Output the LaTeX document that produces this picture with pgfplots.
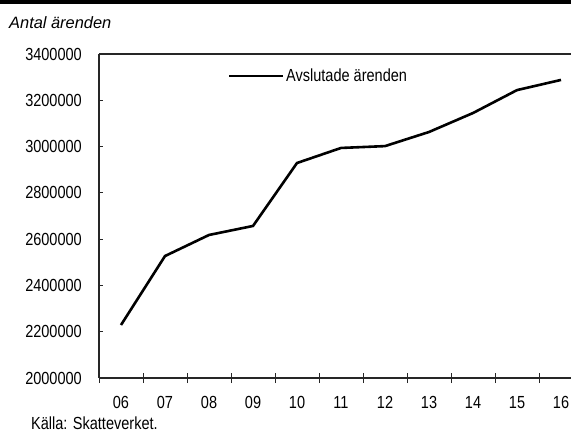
\documentclass[border=0pt]{standalone}
\usepackage{fontspec}
\setmainfont{Liberation Sans}[FakeStretch=0.83]
\newfontfamily\plainfont{Liberation Sans}
\usepackage{pgfplots}
\pgfplotsset{compat=1.18}

\pgfplotstableread{
x  year value
0  06   2229000
1  07   2527000
2  08   2618000
3  09   2657000
4  10   2929000
5  11   2994000
6  12   3002000
7  13   3063000
8  14   3145000
9  15   3244000
10 16   3288000
}\arenden

\begin{document}
\begin{tikzpicture}
\useasboundingbox (0,0) rectangle (571bp,433bp);
\fill[black] (0,429bp) rectangle (571bp,433bp);
\node[anchor=base west,inner sep=0pt,font=\plainfont\itshape\fontsize{16.4bp}{18bp}\selectfont] at (9bp,404bp) {Antal ärenden};
\node[anchor=base west,inner sep=0pt,font=\fontsize{17.5bp}{19bp}\selectfont] at (31bp,4bp) {Källa: Skatteverket.};
\begin{axis}[at={(99bp,55bp)},anchor=south west,
	scale only axis,width=472bp,height=324bp,
	xmin=-0.5,xmax=10.227,ymin=2000000,ymax=3400000,
	axis lines=left,
	axis line style={-,line width=1.3bp,draw=black!85},
	xtick={0,...,10},
	xticklabels={06,07,08,09,10,11,12,13,14,15,16},
	major x tick style={draw=none},
	minor xtick={-0.5,0.5,...,9.5},
	minor tick length=10bp,
	minor x tick style={yshift=-5bp,line width=1bp,draw=black!85},
	ytick={2000000,2200000,...,3400000},
	tick align=inside,
	major tick length=4bp,
	ytick style={line width=1bp,draw=black!85},
	scaled y ticks=false,
	/pgf/number format/assume math mode=true,
	yticklabel={\pgfmathprintnumber[fixed,precision=0,1000 sep={}]{\tick}},
	tick label style={font=\fontsize{17.5bp}{19bp}\selectfont},
	yticklabel style={anchor=east,inner sep=0pt,xshift=-17bp},
	xticklabel style={anchor=north,inner sep=0pt,yshift=-18bp},
	legend style={draw=none,fill=none,at={(axis description cs:0.273,0.932)},anchor=west,
		inner sep=0pt,font=\fontsize{17.5bp}{19bp}\selectfont,nodes={inner sep=1.5bp}},
	legend image code/.code={\draw[#1] (0bp,0bp) -- (54bp,0bp);},
	]
\addplot[black,line width=2.6bp] table[x=x,y=value] {\arenden};
\addlegendentry{Avslutade ärenden}
\draw[line width=1.3bp,draw=black!85] (rel axis cs:0,1) -- (rel axis cs:1,1);
\end{axis}
\end{tikzpicture}
\end{document}
